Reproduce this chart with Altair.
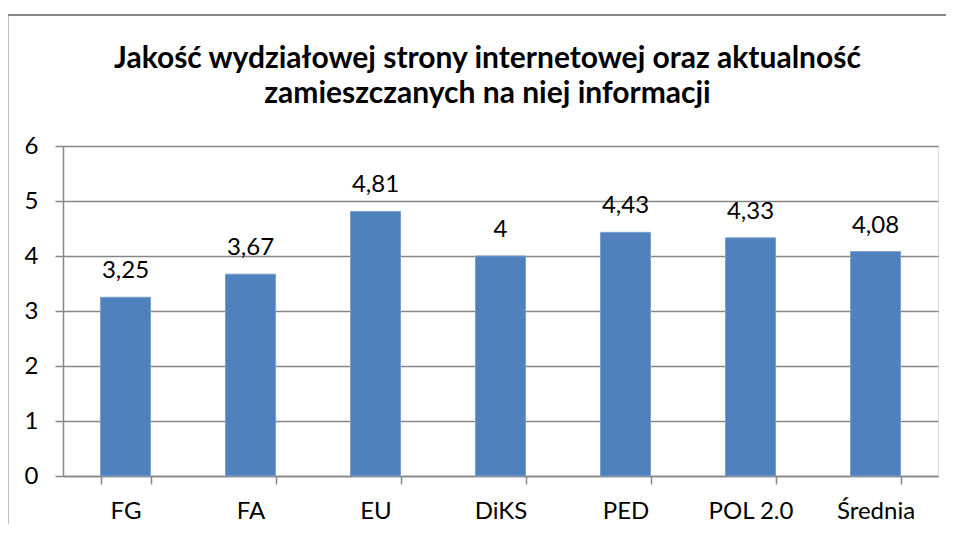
import altair as alt
import pandas as pd

categories = ["FG", "FA", "EU", "DiKS", "PED", "POL 2.0", "Średnia"]
values = [3.25, 3.67, 4.81, 4.00, 4.43, 4.33, 4.08]
y_ticks = [0, 1, 2, 3, 4, 5, 6]
title_lines = ["Jakość wydziałowej strony internetowej oraz aktualność",
               "zamieszczanych na niej informacji"]

df = pd.DataFrame({"cat": categories, "val": values})
df["label"] = [f"{v:g}".replace(".", ",") for v in values]

FONT = "Lato"
GRAY = "#868686"
BLUE = "#4F81BD"

x_enc = alt.X(
    "cat:N", sort=categories, title=None,
    scale=alt.Scale(paddingInner=0.6, paddingOuter=0.3),
    axis=alt.Axis(labelAngle=0, labelFontSize=24, labelFont=FONT, labelColor="black",
                  labelPadding=15, tickSize=8, tickColor=GRAY, tickWidth=1.5,
                  domainColor=GRAY, domainWidth=1.5, tickBand="extent", grid=False),
)
y_enc = alt.Y(
    "val:Q", title=None, scale=alt.Scale(domain=[0, 6]),
    axis=alt.Axis(values=y_ticks, labelFontSize=24, labelFont=FONT, labelColor="black",
                  labelPadding=17, tickSize=8, tickColor=GRAY, tickWidth=1.5,
                  domainColor=GRAY, domainWidth=1.5, gridColor=GRAY, gridWidth=1.5,
                  grid=True),
)

bars = alt.Chart(df).mark_bar(color=BLUE, stroke="#7BA0CD", strokeWidth=1).encode(x=x_enc, y=y_enc)
text = alt.Chart(df).mark_text(dy=-19, baseline="alphabetic", fontSize=24, font=FONT,
                               color="black").encode(x=x_enc, y=y_enc, text="label")

frame_df = pd.DataFrame({"a": [0]})
frame_left = alt.Chart(frame_df).mark_rule(color=GRAY, strokeWidth=2).encode(
    x=alt.value(-55.5), y=alt.value(-131), y2=alt.value(600))
frame_top = alt.Chart(frame_df).mark_rule(color=GRAY, strokeWidth=2).encode(
    x=alt.value(-55.5), x2=alt.value(1100), y=alt.value(-131))

chart = alt.layer(bars, text, frame_left, frame_top).properties(
    width=875, height=330,
    title=alt.TitleParams(title_lines, font=FONT, fontSize=30, fontWeight="bold",
                          color="black", anchor="middle", frame="group", dx=-13,
                          offset=0, dy=95, lineHeight=35),
    autosize=alt.AutoSizeParams(type="none"),
    padding={"left": 55, "top": 138, "right": 8, "bottom": 48},
).configure_view(stroke=None).configure(background="white")

chart.save("out.html", embed_options={"renderer": "svg", "actions": False})
